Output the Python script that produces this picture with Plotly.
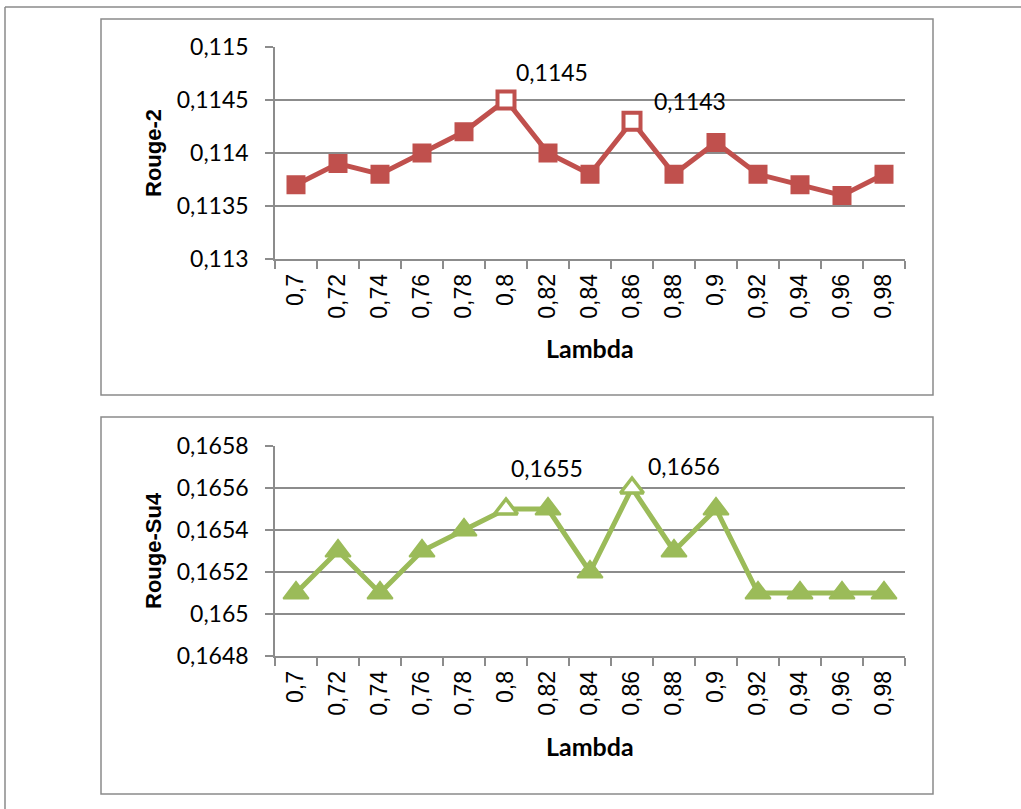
import plotly.graph_objects as go

# ---------------- data ----------------
lambdas = ["0,7", "0,72", "0,74", "0,76", "0,78", "0,8", "0,82", "0,84",
           "0,86", "0,88", "0,9", "0,92", "0,94", "0,96", "0,98"]
rouge2 = [0.1137, 0.1139, 0.1138, 0.1140, 0.1142, 0.1145, 0.1140, 0.1138,
          0.1143, 0.1138, 0.1141, 0.1138, 0.1137, 0.1136, 0.1138]
rouge_su4 = [0.1651, 0.1653, 0.1651, 0.1653, 0.1654, 0.1655, 0.1655, 0.1652,
             0.1656, 0.1653, 0.1655, 0.1651, 0.1651, 0.1651, 0.1651]
highlight = ["0,8", "0,86"]
rouge2_ticks = [0.113, 0.1135, 0.114, 0.1145, 0.115]
su4_ticks = [0.1648, 0.165, 0.1652, 0.1654, 0.1656, 0.1658]

# ---------------- style ----------------
W, H = 1021, 809
RED = "#C0504D"
GREEN = "#9BBB59"
GRID = "#8C8C8C"
BOX = "#8A8A8A"
TICKFONT = dict(family="Lato", size=23, color="black")
XTICKFONT = dict(family="Liberation Sans", size=23, color="black")


def px(x):
    return x / W


def py(y):
    return 1 - y / H


def fmt(v):
    return str(v).replace(".", ",")


fig = go.Figure()


def add_series(vals, xa, ya, color, symbol, size_f, size_h, lw_f, lw_h):
    hl = [lam in highlight for lam in lambdas]
    fig.add_trace(go.Scatter(
        x=lambdas, y=vals, xaxis=xa, yaxis=ya, mode="lines+markers",
        opacity=1,
        line=dict(color=color, width=5),
        marker=dict(symbol=symbol, opacity=1,
                    size=[size_h if h else size_f for h in hl],
                    color=["#FFFFFF" if h else color for h in hl],
                    line=dict(color=color, width=[lw_h if h else lw_f for h in hl])),
        cliponaxis=False, showlegend=False, hoverinfo="skip"))


add_series(rouge2, "x", "y", RED, "square", 17, 17, 2, 4)
add_series(rouge_su4, "x2", "y2", GREEN, "triangle-up", 22, 20, 2, 3.5)

# data labels
label_shift_top = {"0,8": (46, 28), "0,86": (58, 20)}
label_shift_bot = {"0,8": (41, 41), "0,86": (52, 22)}
annotations = []
for lam, v in zip(lambdas, rouge2):
    if lam in highlight:
        dx, dy = label_shift_top[lam]
        annotations.append(dict(x=lam, y=v, xref="x", yref="y", text=fmt(v),
                                showarrow=False, xshift=dx, yshift=dy,
                                font=TICKFONT))
for lam, v in zip(lambdas, rouge_su4):
    if lam in highlight:
        dx, dy = label_shift_bot[lam]
        annotations.append(dict(x=lam, y=v, xref="x2", yref="y2", text=fmt(v),
                                showarrow=False, xshift=dx, yshift=dy,
                                font=TICKFONT))

# axis titles
for txt, cy in (("Rouge-2", 153), ("Rouge-Su4", 551)):
    annotations.append(dict(x=px(153), y=py(cy), xref="paper", yref="paper",
                            text="<b>%s</b>" % txt, textangle=-90, showarrow=False,
                            xanchor="center", yanchor="middle",
                            font=dict(family="Liberation Sans", size=22, color="black")))
for cy in (348, 746):
    annotations.append(dict(x=px(590), y=py(cy), xref="paper", yref="paper",
                            text="<b>Lambda</b>", showarrow=False,
                            xanchor="center", yanchor="middle",
                            font=dict(family="Lato", size=25, color="black")))

xaxis_common = dict(type="category", range=[-0.5, len(lambdas) - 0.5],
                    tickson="boundaries", ticks="outside", ticklen=8,
                    tickcolor=GRID, tickwidth=1.5, showline=True,
                    linecolor=GRID, linewidth=1.5, showgrid=False,
                    tickangle=-90, tickfont=XTICKFONT, automargin=False,
                    fixedrange=True, zeroline=False, ticklabelstandoff=4)
yaxis_common = dict(ticks="outside", ticklen=8, tickcolor=GRID, tickwidth=1.5,
                    showline=True, linecolor=GRID, linewidth=1.5,
                    showgrid=True, gridcolor=GRID, gridwidth=1.5,
                    tickfont=TICKFONT, automargin=False, zeroline=False,
                    ticklabelstandoff=12, fixedrange=True)

fig.update_layout(
    width=W, height=H, margin=dict(l=0, r=0, t=0, b=0),
    paper_bgcolor="white", plot_bgcolor="white",
    xaxis=dict(xaxis_common, domain=[px(275), px(905)], anchor="y"),
    xaxis2=dict(xaxis_common, domain=[px(275), px(905)], anchor="y2"),
    yaxis=dict(yaxis_common, domain=[py(259), py(47)], anchor="x",
               range=[rouge2_ticks[0], rouge2_ticks[-1]],
               tickvals=rouge2_ticks, ticktext=[fmt(v) for v in rouge2_ticks]),
    yaxis2=dict(yaxis_common, domain=[py(656), py(446)], anchor="x2",
                range=[su4_ticks[0], su4_ticks[-1]],
                tickvals=su4_ticks, ticktext=[fmt(v) for v in su4_ticks]),
    annotations=annotations,
    shapes=[
        dict(type="rect", xref="paper", yref="paper", x0=px(101), x1=px(933),
             y0=py(395), y1=py(19), line=dict(color=BOX, width=1.5)),
        dict(type="rect", xref="paper", yref="paper", x0=px(101), x1=px(933),
             y0=py(794), y1=py(417), line=dict(color=BOX, width=1.5)),
        dict(type="line", xref="paper", yref="paper", x0=px(5), x1=px(1030),
             y0=py(7), y1=py(7), line=dict(color=BOX, width=1.5)),
        dict(type="line", xref="paper", yref="paper", x0=px(5), x1=px(5),
             y0=py(7), y1=py(820), line=dict(color=BOX, width=1.5)),
    ],
)

fig.write_html("out.html")
